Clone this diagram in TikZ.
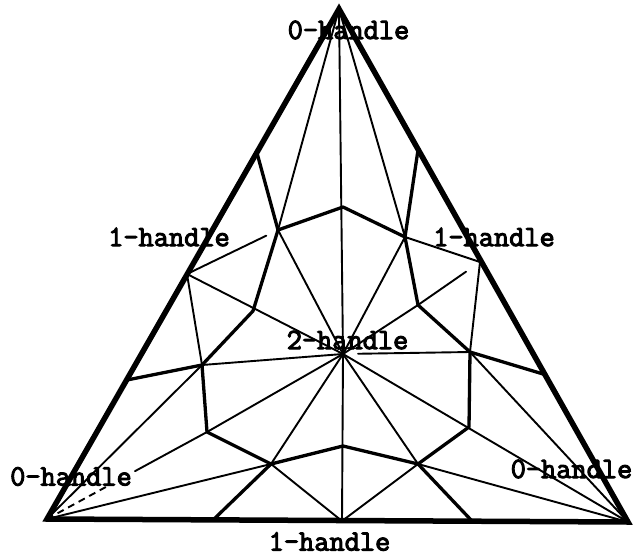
\documentclass[tikz,border=0pt]{standalone}
\usepackage{fontspec}
\newfontfamily\lblfont{Latin Modern Mono}[FakeBold=3.5]
\usetikzlibrary{calc}
\tikzset{
  outerline/.style={line width=5.5pt,line join=miter,line cap=round},
  thickline/.style={line width=3.3pt,line join=round,line cap=round},
  thinline/.style={line width=1.9pt,line cap=round},
  dashline/.style={line width=1.9pt,dash pattern=on 7pt off 5pt},
  lbl/.style={inner sep=0pt,font=\lblfont\fontsize{29.5}{33}\selectfont}
}
\begin{document}
\begin{tikzpicture}[x=1pt,y=-1pt]
\useasboundingbox (0,0) rectangle (639,559);
% outer vertices
\coordinate (A) at (339,9);
\coordinate (B) at (47,519);
\coordinate (C) at (628,522);
\coordinate (G) at (343,354);
% edge midpoints (first subdivision)
\coordinate (mAB) at (187,274);
\coordinate (mAC) at (480,262);
\coordinate (mBC) at (342,521);
% boundary points of second subdivision
\coordinate (pA1) at (257,153);
\coordinate (pB1) at (127,380);
\coordinate (pB2) at (213,520);
\coordinate (pC2) at (472,521);
\coordinate (pC1) at (543,374);
\coordinate (pA2) at (418,150);
% ring round the centre
\coordinate (r1) at (343,207);
\coordinate (r2) at (405,237);
\coordinate (r3) at (418,305);
\coordinate (r4) at (470,352);
\coordinate (r5) at (469,427);
\coordinate (r6) at (418,464);
\coordinate (r7) at (343,446);
\coordinate (r8) at (271,464);
\coordinate (r9) at (207,432);
\coordinate (r10) at (202,365);
\coordinate (r11) at (253,311);
\coordinate (r12) at (278,230);
\coordinate (bd) at ($(B)!0.40!(r9)$);
\coordinate (bs) at ($(B)!0.55!(r9)$);
% thin lines
\draw[thinline] (A) -- (G);
\draw[thinline] (C) -- (G);
\draw[thinline] (mAB) -- (G);
\draw[thinline] (mBC) -- (G);
\draw[thinline] (r9) -- (G);
\draw[dashline] (B) -- (bd);
\draw[thinline] (bs) -- (r9);
\draw[thinline,shorten <=17pt] (mAC) -- (r3);
\draw[thinline] (r3) -- (G);
\draw[thinline,shorten >=13pt] (mAB) -- (r12);
\draw[thinline,shorten <=15pt] (G) -- (r4);
\draw[thinline] (G) -- (r2);
\draw[thinline] (G) -- (r6);
\draw[thinline] (G) -- (r8);
\draw[thinline] (G) -- (r10);
\draw[thinline] (G) -- (r12);
\draw[thinline] (A) -- (r12);
\draw[thinline] (A) -- (r2);
\draw[thinline] (B) -- (r10);
\draw[thinline] (B) -- (r8);
\draw[thinline] (C) -- (r4);
\draw[thinline] (C) -- (r6);
\draw[thinline] (mAB) -- (r10);
\draw[thinline] (mAC) -- (r2);
\draw[thinline] (mAC) -- (r4);
\draw[thinline] (mBC) -- (r8);
\draw[thinline] (mBC) -- (r6);
% thick lines: ring and separators
\draw[thickline] (r1) -- (r2) -- (r3) -- (r4) -- (r5) -- (r6) -- (r7) -- (r8) -- (r9) -- (r10) -- (r11) -- (r12) -- cycle;
\draw[thickline] (pA1) -- (r12);
\draw[thickline] (pB1) -- (r10);
\draw[thickline] (pB2) -- (r8);
\draw[thickline] (pC2) -- (r6);
\draw[thickline] (pC1) -- (r4);
\draw[thickline] (pA2) -- (r2);
% outer triangle
\draw[outerline] (A) -- (B) -- (C) -- cycle;
% labels
\node[lbl] (t0) at (348.5,30) {0-handle};
\node[lbl] (l1) at (169,237) {1-handle};
\node[lbl] (r1l) at (494,237) {1-handle};
\node[lbl] (c2) at (347.5,340) {2-handle};
\node[lbl] (l0) at (71,476.5) {0-handle};
\node[lbl] (r0) at (571.5,469) {0-handle};
\node[lbl] (b1) at (329.5,541.5) {1-handle};
\end{tikzpicture}
\end{document}
